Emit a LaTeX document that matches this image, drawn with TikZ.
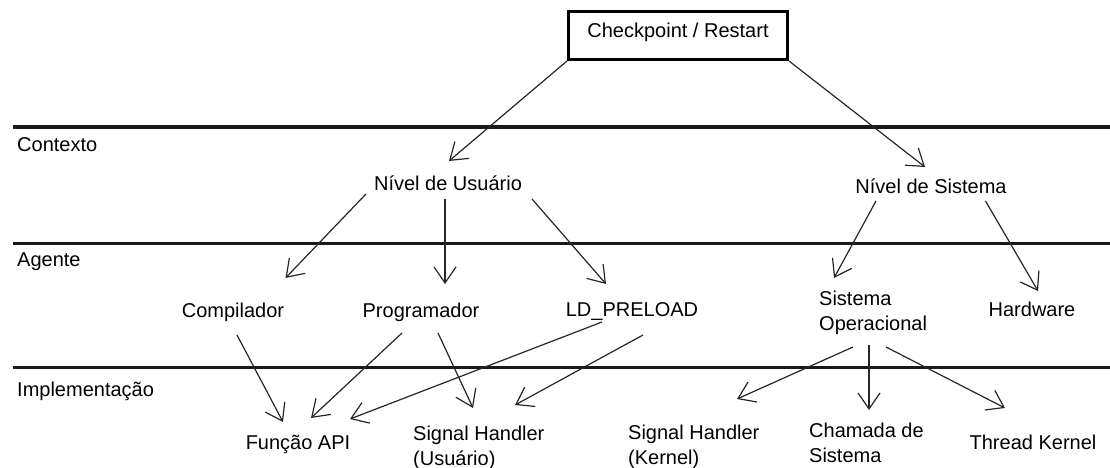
\documentclass[tikz,border=0pt]{standalone}
\usepackage{fontspec}
\setmainfont{Liberation Sans}
\usetikzlibrary{arrows.meta}
% two-line label whose baseline is the first line
\newcommand{\twolines}[2]{\begin{tabular}[t]{@{}l@{}}#1\\#2\end{tabular}}
\begin{document}
\begin{tikzpicture}[x=1pt,y=-1pt,
  lbl/.style={font=\fontsize{20}{25}\selectfont, inner sep=0pt, text=black},
  rootbox/.style={lbl, draw=black, line width=3pt, minimum width=219pt,
    minimum height=48pt, text height=14.3pt, text depth=9.3pt},
  sep/.style={line width=3pt, draw=black!90},
  arr/.style={line width=1.2pt, draw=black!85,
    -{Straight Barb[length=16pt,width=22pt]}}]
\useasboundingbox (0,0) rectangle (1110,468);

% layer separators
\foreach \yy in {127,243,367} \draw[sep] (13,\yy) -- (1110,\yy);

% layer names
\node[lbl, anchor=base west] (ctx) at (17,151) {Contexto};
\node[lbl, anchor=base west] (agt) at (17,266) {Agente};
\node[lbl, anchor=base west] (imp) at (17,396) {Implementação};

% root
\node[rootbox] (cr) at (678,35.5) {Checkpoint / Restart};

% context level
\node[lbl, anchor=base] (nu) at (448,190) {Nível de Usuário};
\node[lbl, anchor=base] (ns) at (931,193) {Nível de Sistema};

% agent level
\node[lbl, anchor=base] (comp) at (233,317) {Compilador};
\node[lbl, anchor=base] (prog) at (421,317) {Programador};
\node[lbl, anchor=base] (ld) at (632,316) {LD\_PRELOAD};
\node[lbl, anchor=base west] (so) at (819,305) {\twolines{Sistema}{Operacional}};
\node[lbl, anchor=base] (hw) at (1032,316) {Hardware};

% implementation level
\node[lbl, anchor=base] (fapi) at (298,449) {Função API};
\node[lbl, anchor=base west] (shu) at (413,440) {\twolines{Signal Handler}{(Usuário)}};
\node[lbl, anchor=base west] (shk) at (628,439) {\twolines{Signal Handler}{(Kernel)}};
\node[lbl, anchor=base west] (cds) at (809,437) {\twolines{Chamada de}{Sistema}};
\node[lbl, anchor=base] (tk) at (1033,449) {Thread Kernel};

% root to context
\draw[arr] (cr.south west) -- ([shift={(1,-29)}]nu.base);
\draw[arr] (cr.south east) -- ([shift={(-6,-26)}]ns.base);

% context to agent
\draw[arr] ([shift={(-82,4)}]nu.base) -- ([shift={(52.5,-39)}]comp.base);
\draw[arr] ([shift={(-3,9)}]nu.base) -- ([shift={(24,-33)}]prog.base);
\draw[arr] ([shift={(84,9)}]nu.base) -- ([shift={(-26,-32)}]ld.base);
\draw[arr] ([shift={(-55,8)}]ns.base) -- ([shift={(15,-27)}]so.base west);
\draw[arr] ([shift={(54.5,8)}]ns.base) -- ([shift={(6,-25)}]hw.base);

% agent to implementation
\draw[arr] ([shift={(4,18)}]comp.base) -- ([shift={(-15,-27)}]fapi.base);
\draw[arr] ([shift={(-19,16)}]prog.base) -- ([shift={(13,-31)}]fapi.base);
\draw[arr] ([shift={(17,16)}]prog.base) -- ([shift={(60,-32)}]shu.base west);
\draw[arr] ([shift={(-30,6)}]ld.base) -- ([shift={(52,-30)}]fapi.base);
\draw[arr] ([shift={(11,19)}]ld.base) -- ([shift={(102,-35)}]shu.base west);
\draw[arr] ([shift={(34,42)}]so.base west) -- ([shift={(109,-40)}]shk.base west);
\draw[arr] ([shift={(50,40)}]so.base west) -- ([shift={(60,-27)}]cds.base west);
\draw[arr] ([shift={(67,42)}]so.base west) -- ([shift={(-28,-41)}]tk.base);
\end{tikzpicture}
\end{document}
